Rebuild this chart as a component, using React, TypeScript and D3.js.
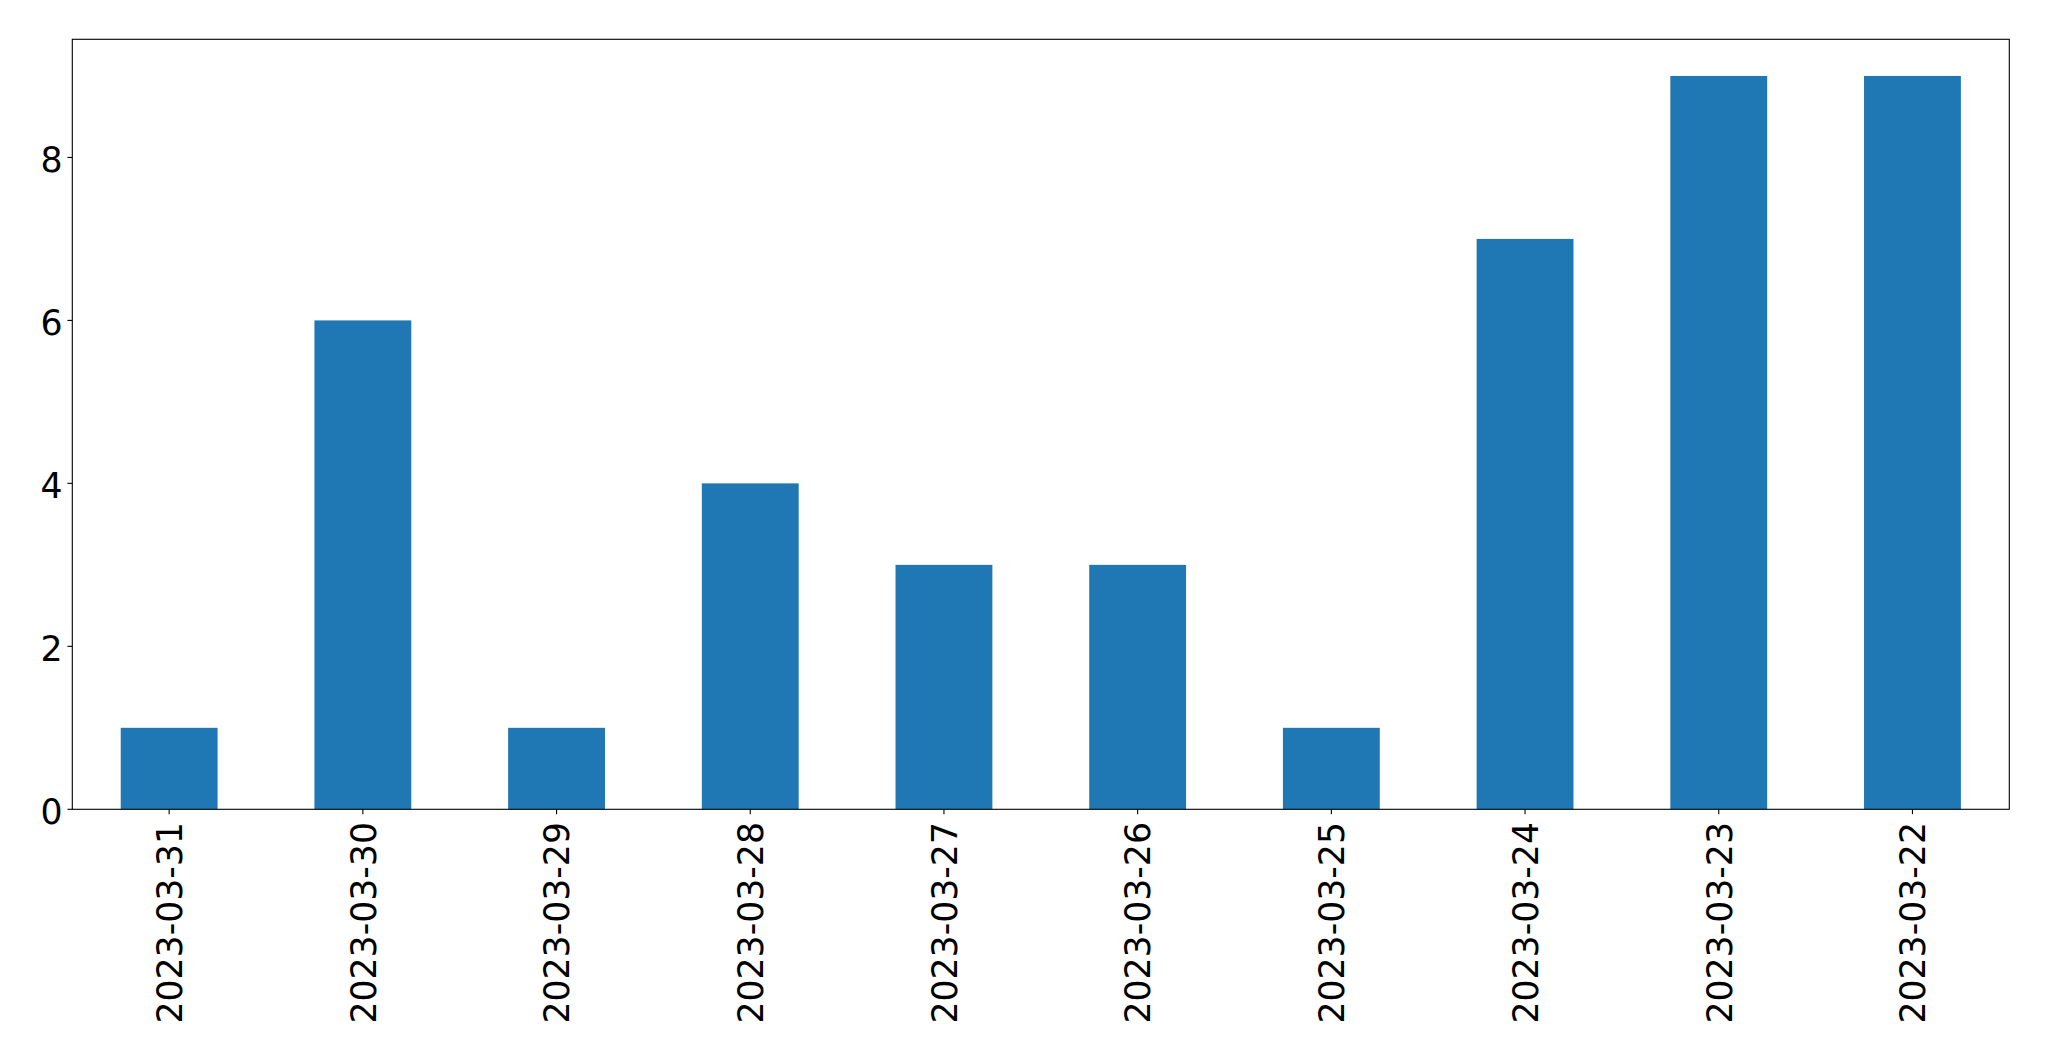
import { useEffect, useRef } from "react"
import * as d3 from "d3"

const categories = [
  "2023-03-31",
  "2023-03-30",
  "2023-03-29",
  "2023-03-28",
  "2023-03-27",
  "2023-03-26",
  "2023-03-25",
  "2023-03-24",
  "2023-03-23",
  "2023-03-22",
]
const counts = [1, 6, 1, 4, 3, 3, 1, 7, 9, 9]
const yTicks = [0, 2, 4, 6, 8]

export default function App() {
  const svgRef = useRef<SVGSVGElement>(null)
  const width = 2049
  const height = 1061

  useEffect(() => {
    if (!svgRef.current) return
    d3.select(svgRef.current).selectAll("*").remove()

    const margin = { top: 39.3, right: width - 2009.3, bottom: height - 809.3, left: 72.3 }
    const innerWidth = width - margin.left - margin.right
    const innerHeight = height - margin.top - margin.bottom
    const font = "DejaVu Sans"
    const fontSize = 34.7

    const svg = d3
      .select(svgRef.current)
      .attr("width", width)
      .attr("height", height)
      .append("g")
      .attr("transform", `translate(${margin.left},${margin.top})`)

    // matplotlib-style positions: bar centers at integer slots, width 0.5
    const xScale = d3.scaleLinear().domain([-0.5, categories.length - 0.5]).range([0, innerWidth])
    const yMax = d3.max(counts)! * 1.05
    const yScale = d3.scaleLinear().domain([0, yMax]).range([innerHeight, 0])

    svg
      .selectAll("rect.bar")
      .data(counts)
      .enter()
      .append("rect")
      .attr("class", "bar")
      .attr("x", (_, i) => xScale(i - 0.25))
      .attr("y", (d) => yScale(d))
      .attr("width", xScale(0.25) - xScale(-0.25))
      .attr("height", (d) => innerHeight - yScale(d))
      .attr("fill", "#1f77b4")

    // frame
    svg
      .append("rect")
      .attr("x", 0)
      .attr("y", 0)
      .attr("width", innerWidth)
      .attr("height", innerHeight)
      .attr("fill", "none")
      .attr("stroke", "#000")
      .attr("stroke-width", 1.1)

    const tickLen = 4.86
    const pad = 4.86

    // y axis
    const yAxis = svg.append("g")
    yAxis
      .selectAll("line")
      .data(yTicks)
      .enter()
      .append("line")
      .attr("x1", -tickLen)
      .attr("x2", 0)
      .attr("y1", (d) => yScale(d))
      .attr("y2", (d) => yScale(d))
      .attr("stroke", "#000")
      .attr("stroke-width", 1.1)
    yAxis
      .selectAll("text")
      .data(yTicks)
      .enter()
      .append("text")
      .attr("x", -tickLen - pad)
      .attr("y", (d) => yScale(d))
      .attr("dy", "0.42em")
      .attr("text-anchor", "end")
      .attr("font-family", font)
      .attr("font-size", fontSize)
      .attr("fill", "#000")
      .text((d) => d)

    // x axis
    const xAxis = svg.append("g").attr("transform", `translate(0,${innerHeight})`)
    xAxis
      .selectAll("line")
      .data(categories)
      .enter()
      .append("line")
      .attr("x1", (_, i) => xScale(i))
      .attr("x2", (_, i) => xScale(i))
      .attr("y1", 0)
      .attr("y2", tickLen)
      .attr("stroke", "#000")
      .attr("stroke-width", 1.1)
    xAxis
      .selectAll("text")
      .data(categories)
      .enter()
      .append("text")
      .attr("transform", (_, i) => `translate(${xScale(i)},${tickLen + pad + 3}) rotate(-90)`)
      .attr("dy", "0.37em")
      .attr("text-anchor", "end")
      .attr("font-family", font)
      .attr("font-size", fontSize)
      .attr("fill", "#000")
      .text((d) => d)
  }, [])

  return (
    <svg
      ref={svgRef}
      style={{ position: "absolute", left: 0, top: 0, background: "#fff" }}
      width={width}
      height={height}
    />
  )
}
